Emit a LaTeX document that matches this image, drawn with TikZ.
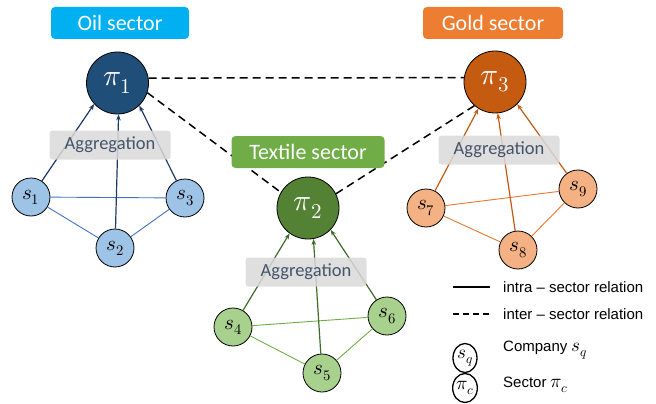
\documentclass[tikz,border=0pt]{standalone}
\usepackage{fontspec}
\usepackage{unicode-math}
\setmainfont{Carlito}
\setmathfont{Latin Modern Math}
\newfontfamily\legendfont{Liberation Sans}
\usetikzlibrary{arrows.meta,shapes.geometric}
\definecolor{oillab}{HTML}{00B0F0}
\definecolor{oildark}{HTML}{1F4E79}
\definecolor{oilarr}{HTML}{203864}
\definecolor{oillight}{HTML}{9DC3E6}
\definecolor{oiledge}{HTML}{4472C4}
\definecolor{texlab}{HTML}{70AD47}
\definecolor{texdark}{HTML}{548235}
\definecolor{texarr}{HTML}{3E6B25}
\definecolor{texlight}{HTML}{A9D18E}
\definecolor{texedge}{HTML}{70AD47}
\definecolor{goldlab}{HTML}{ED7D31}
\definecolor{golddark}{HTML}{C55A11}
\definecolor{goldarr}{HTML}{C55A11}
\definecolor{goldlight}{HTML}{F4B183}
\definecolor{goldedge}{HTML}{E57A2E}
\definecolor{aggfill}{HTML}{D9D9D9}
\definecolor{aggtext}{HTML}{44546A}
\tikzset{
  secnode/.style={circle, draw=black, line width=0.8pt, minimum size=62pt, inner sep=0pt, text=white, font=\fontsize{30}{32}\selectfont},
  compnode/.style={circle, draw=black, line width=0.8pt, minimum size=38pt, inner sep=0pt, font=\fontsize{21}{23}\selectfont},
  seclabel/.style={rounded corners=4pt, text=white, font=\fontsize{22}{24}\selectfont, minimum height=32pt, inner sep=0pt},
  aggbox/.style={rounded corners=3pt, fill=aggfill, fill opacity=0.85, text opacity=1, text=aggtext, font=\fontsize{18.5}{20}\selectfont, minimum height=29pt, minimum width=121pt, inner sep=0pt},
  aggarrow/.style={line width=1.2pt, -{Stealth[length=6pt,width=4.5pt]}},
  compedge/.style={line width=0.9pt},
  interline/.style={line width=1.5pt, dash pattern=on 8pt off 5pt},
  legtext/.style={anchor=west, inner sep=0pt, font=\legendfont\fontsize{15}{17}\selectfont},
  legsym/.style={ellipse, draw=black, line width=1.3pt, minimum width=24pt, minimum height=29pt, inner sep=0pt, font=\fontsize{19}{21}\selectfont}
}
\begin{document}
\begin{tikzpicture}[x=1pt,y=-1pt]
\useasboundingbox (0,0) rectangle (656,404);
% Oil sector
\node[secnode, fill=oildark] (p1) at (117.5,83) {$\pi_1$};
\node[compnode, fill=oillight] (s1) at (31,197) {$s_1$};
\node[compnode, fill=oillight] (s2) at (115,248) {$s_2$};
\node[compnode, fill=oillight] (s3) at (185,198) {$s_3$};
% Textile sector
\node[secnode, fill=texdark] (p2) at (308,208) {$\pi_2$};
\node[compnode, fill=texlight] (s4) at (233,327) {$s_4$};
\node[compnode, fill=texlight] (s5) at (322,373) {$s_5$};
\node[compnode, fill=texlight] (s6) at (387,316) {$s_6$};
% Gold sector
\node[secnode, fill=golddark] (p3) at (495,82) {$\pi_3$};
\node[compnode, fill=goldlight] (s7) at (426,208) {$s_7$};
\node[compnode, fill=goldlight] (s8) at (518,250) {$s_8$};
\node[compnode, fill=goldlight] (s9) at (578,189) {$s_9$};
% intra-sector edges
\draw[compedge, oiledge] (s1) -- (s3) (s1) -- (s2) (s2) -- (s3);
\draw[compedge, texedge] (s4) -- (s6) (s4) -- (s5) (s5) -- (s6);
\draw[compedge, goldedge] (s7) -- (s9) (s7) -- (s8) (s8) -- (s9);
% aggregation arrows
\draw[aggarrow, oilarr] (s1) -- (p1.222);
\draw[aggarrow, oilarr] (s2) -- (p1.272);
\draw[aggarrow, oilarr] (s3) -- (p1.314);
\draw[aggarrow, texarr] (s4) -- (p2.234);
\draw[aggarrow, texarr] (s5) -- (p2.280);
\draw[aggarrow, texarr] (s6) -- (p2.316);
\draw[aggarrow, goldarr] (s7) -- (p3.238);
\draw[aggarrow, goldarr] (s8) -- (p3.275);
\draw[aggarrow, goldarr] (s9) -- (p3.315);
% inter-sector relations
\draw[interline] (p1.9) -- (p3.172);
\draw[interline] (p1.342) -- (p2.150);
\draw[interline] (p2.27) -- (p3.229);
% aggregation boxes
\node[aggbox] (a1) at (110,145) {Aggregation};
\node[aggbox] (a2) at (306,272) {Aggregation};
\node[aggbox] (a3) at (499,150) {Aggregation};
% sector labels
\node[seclabel, fill=oillab, minimum width=138pt] (l1) at (120,23) {Oil sector};
\node[seclabel, fill=texlab, minimum width=153pt] (l2) at (308,152) {Textile sector};
\node[seclabel, fill=goldlab, minimum width=140pt] (l3) at (493,23) {Gold sector};
% legend
\coordinate (la1) at (453,287);
\coordinate (lb1) at (490,287);
\coordinate (la2) at (453,314);
\coordinate (lb2) at (490,314);
\draw[line width=1.5pt] (la1) -- (lb1);
\draw[line width=1.5pt, dash pattern=on 6pt off 4pt] (la2) -- (lb2);
\node[legtext] (t1) at (503,287) {intra – sector relation};
\node[legtext] (t2) at (503,314) {inter – sector relation};
\node[legsym] (lq) at (465,358) {$s_q$};
\node[legtext] (t3) at (503,350) {Company {\fontsize{19}{21}\selectfont$s_q$}};
\node[legsym] (lc) at (465,388) {$\pi_c$};
\node[legtext] (t4) at (503,385) {Sector {\fontsize{19}{21}\selectfont$\pi_c$}};
\end{tikzpicture}
\end{document}
